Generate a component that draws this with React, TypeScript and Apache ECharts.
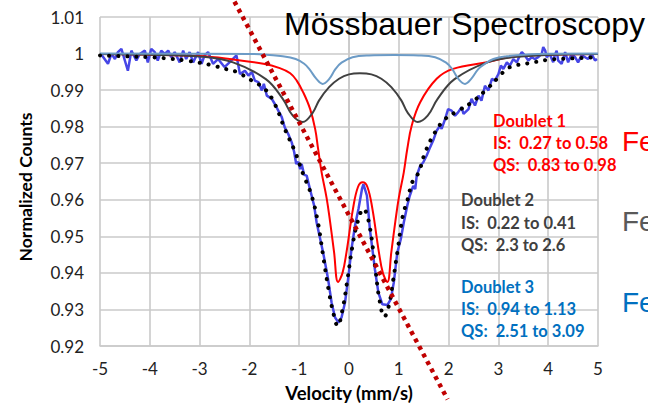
import React, { useEffect, useRef } from "react";
import * as echarts from "echarts";

// Measured spectrum (velocity mm/s, normalized counts)
const measured: [number, number][] = [
  [-4.98, 0.9999], [-4.84, 0.9972], [-4.77, 0.9999], [-4.7, 0.9985], [-4.64, 1.0004], [-4.57, 1.0013],
  [-4.44, 0.9953], [-4.37, 1.0008], [-4.27, 0.9981], [-4.2, 0.9999], [-4.1, 1.0008], [-4.04, 0.9976],
  [-3.97, 1.0013], [-3.9, 1.0004], [-3.84, 0.9981], [-3.77, 1.0008], [-3.7, 0.9999], [-3.63, 1.0008],
  [-3.57, 0.999], [-3.5, 1.0004], [-3.4, 0.9976], [-3.33, 1.0008], [-3.27, 0.9985], [-3.2, 1.0004],
  [-3.13, 0.9976], [-3.03, 1.0004], [-2.96, 0.9972], [-2.9, 0.9995], [-2.83, 1.0004], [-2.73, 0.9972],
  [-2.63, 0.9985], [-2.5, 0.9963], [-2.4, 0.9976], [-2.26, 0.9995], [-2.19, 0.9944], [-2.09, 0.9953],
  [-2.02, 0.994], [-1.95, 0.9949], [-1.89, 0.9926], [-1.82, 0.9922], [-1.75, 0.9899], [-1.71, 0.9917],
  [-1.65, 0.9885], [-1.55, 0.9876], [-1.49, 0.9862], [-1.42, 0.9844], [-1.35, 0.9826], [-1.29, 0.9798],
  [-1.22, 0.978], [-1.15, 0.9757], [-1.1, 0.973], [-1.06, 0.9698], [-1.02, 0.9704], [-0.98, 0.9684],
  [-0.95, 0.9698], [-0.9, 0.9668], [-0.85, 0.9666], [-0.8, 0.9638], [-0.75, 0.9611], [-0.7, 0.9584],
  [-0.65, 0.9538], [-0.52, 0.9456], [-0.42, 0.9383], [-0.35, 0.9319], [-0.28, 0.9278], [-0.21, 0.9264],
  [-0.15, 0.9278], [-0.08, 0.9319], [-0.01, 0.9392], [0.05, 0.9465], [0.12, 0.9529], [0.19, 0.9575],
  [0.26, 0.9629], [0.29, 0.9643], [0.36, 0.9611], [0.42, 0.9519], [0.52, 0.941], [0.59, 0.9346],
  [0.67, 0.9314], [0.77, 0.9312], [0.84, 0.9328], [0.9, 0.9374], [0.97, 0.9456], [1.04, 0.9492],
  [1.1, 0.9538], [1.17, 0.9584], [1.22, 0.9611], [1.29, 0.9638], [1.33, 0.9629], [1.36, 0.9666],
  [1.43, 0.9693], [1.49, 0.9702], [1.56, 0.9721], [1.63, 0.9744], [1.69, 0.9762], [1.76, 0.9789],
  [1.83, 0.9803], [1.86, 0.9794], [1.93, 0.9821], [1.99, 0.9848], [2.06, 0.9844], [2.13, 0.983],
  [2.19, 0.9839], [2.26, 0.9853], [2.3, 0.9835], [2.4, 0.9848], [2.46, 0.9876], [2.53, 0.9858],
  [2.6, 0.9885], [2.66, 0.9871], [2.73, 0.9912], [2.8, 0.9899], [2.87, 0.9931], [2.93, 0.9926],
  [3.0, 0.9944], [3.05, 0.9967], [3.1, 0.9958], [3.17, 0.9976], [3.23, 0.9967], [3.3, 0.9985],
  [3.37, 0.9976], [3.43, 0.9995], [3.47, 1.0004], [3.53, 0.9995], [3.6, 0.9981], [3.67, 0.999],
  [3.73, 0.9985], [3.8, 0.999], [3.87, 0.9999], [3.9, 1.0018], [3.94, 1.0008], [3.97, 0.999],
  [4.03, 0.9999], [4.1, 0.9976], [4.13, 0.9995], [4.17, 1.0008], [4.2, 0.9981], [4.27, 0.9972],
  [4.34, 1.0004], [4.4, 0.9976], [4.47, 0.9999], [4.54, 0.999], [4.6, 0.9976], [4.67, 0.9995],
  [4.74, 0.999], [4.8, 0.9985], [4.87, 0.9999], [4.94, 0.9981], [4.98, 0.9985],
];

// Doublet 1 (red)
const doublet1: [number, number][] = [
  [-5, 0.9999], [-4, 0.9997], [-3, 0.9993], [-2.4, 0.9985], [-1.72, 0.9972], [-1.39, 0.996],
  [-1.18, 0.9946], [-1.05, 0.9926], [-0.92, 0.9894], [-0.78, 0.9848], [-0.68, 0.9794], [-0.62, 0.9739],
  [-0.55, 0.9675], [-0.45, 0.9605], [-0.38, 0.954], [-0.3, 0.9457], [-0.22, 0.9375], [-0.13, 0.94],
  [-0.05, 0.9457], [0.08, 0.9575], [0.18, 0.9635], [0.275, 0.9648], [0.37, 0.9635], [0.47, 0.9575],
  [0.6, 0.9457], [0.68, 0.94], [0.77, 0.9375], [0.85, 0.9457], [0.93, 0.954], [1.0, 0.9605],
  [1.1, 0.9675], [1.17, 0.9739], [1.26, 0.9803], [1.43, 0.9867], [1.76, 0.9931], [2.09, 0.9958],
  [2.77, 0.9976], [3.23, 0.999], [4, 0.9997], [5, 0.9999],
];

// Doublet 2 (grey)
const doublet2: [number, number][] = [
  [-5, 0.9999], [-4, 0.9997], [-3, 0.9992], [-2.33, 0.9976], [-1.67, 0.993], [-1.33, 0.9876],
  [-1.13, 0.983], [-0.93, 0.9813], [-0.73, 0.9838], [-0.6, 0.9872], [-0.4, 0.9908], [-0.2, 0.9931],
  [0.0, 0.9943], [0.22, 0.9946], [0.45, 0.9943], [0.65, 0.9931], [0.85, 0.9908], [1.05, 0.9872],
  [1.18, 0.9838], [1.38, 0.9813], [1.58, 0.983], [1.78, 0.9876], [2.12, 0.993], [2.78, 0.9976],
  [3.45, 0.9992], [4.5, 0.9998], [5, 0.9999],
];

// Doublet 3 (steel blue)
const doublet3: [number, number][] = [
  [-5, 1.0], [-2, 0.9999], [-1.3, 0.9992], [-1.07, 0.9985], [-0.9, 0.9972], [-0.8, 0.9958],
  [-0.65, 0.993], [-0.53, 0.9917], [-0.4, 0.993], [-0.27, 0.9958], [-0.15, 0.9975], [0.07, 0.999],
  [0.4, 0.9995], [0.9, 0.9996], [1.4, 0.9995], [1.73, 0.999], [1.95, 0.9975], [2.07, 0.9958],
  [2.2, 0.993], [2.33, 0.9917], [2.45, 0.993], [2.6, 0.9958], [2.73, 0.9972], [2.9, 0.9985],
  [3.13, 0.9992], [3.8, 0.9999], [5, 1.0],
];

// Total fit (black dotted)
const fitTotal: [number, number][] = [
  [-5, 0.9995], [-4.6, 0.9993], [-4, 0.999], [-3.6, 0.9986], [-3.3, 0.9981], [-3, 0.9975],
  [-2.7, 0.9966], [-2.4, 0.9955], [-2.26, 0.995], [-1.95, 0.9926], [-1.69, 0.9903], [-1.49, 0.9862],
  [-1.29, 0.9794], [-1.08, 0.973], [-0.92, 0.967], [-0.75, 0.9611], [-0.62, 0.9535], [-0.53, 0.9456],
  [-0.4, 0.9346], [-0.3, 0.9282], [-0.23, 0.9255], [-0.13, 0.93], [-0.03, 0.9383], [0.07, 0.9474],
  [0.17, 0.9538], [0.29, 0.9575], [0.4, 0.9538], [0.53, 0.941], [0.61, 0.9328], [0.71, 0.928],
  [0.8, 0.931], [0.88, 0.9374], [0.98, 0.9465], [1.08, 0.9556], [1.18, 0.9602], [1.27, 0.9648],
  [1.4, 0.9675], [1.53, 0.973], [1.73, 0.9785], [1.93, 0.9821], [2.2, 0.9844], [2.47, 0.9867],
  [2.77, 0.9903], [3.0, 0.9935], [3.17, 0.9958], [3.33, 0.9967], [3.67, 0.9975], [4.0, 0.9983],
  [4.5, 0.9987], [5, 0.999],
];

// Dashed trend line drawn across the plot
const trendLine: [number, number][] = [
  [-2.3, 1.0142],
  [1.98, 0.9054],
];

const annotations = [
  { color: "#FF0000", lines: ["Doublet 1", "IS:  0.27 to 0.58", "QS:  0.83 to 0.98"], x: 493, ys: [120.5, 142.5, 164.5] },
  { color: "#404040", lines: ["Doublet 2", "IS:  0.22 to 0.41", "QS:  2.3 to 2.6"], x: 461, ys: [200, 222.5, 245] },
  { color: "#0070C0", lines: ["Doublet 3", "IS:  0.94 to 1.13", "QS:  2.51 to 3.09"], x: 461, ys: [286.5, 309, 331] },
];

const feLabels = [
  { color: "#FF0000", y: 141.5 },
  { color: "#595959", y: 221 },
  { color: "#0070C0", y: 302.5 },
];

const GRID = "#CACACA";
const FONT = "Lato, 'Open Sans', sans-serif";

export default function App() {
  const ref = useRef<HTMLDivElement>(null);
  useEffect(() => {
    const chart = echarts.init(ref.current!, null, { renderer: "svg" });
    const graphic: any[] = [
      {
        type: "text",
        x: 284,
        y: 24,
        silent: true,
        style: {
          text: "Mössbauer Spectroscopy",
          font: "32px 'Liberation Sans', Arial, sans-serif",
          fill: "#000",
          align: "left",
          verticalAlign: "middle",
        },
        z: 100,
      },
      {
        type: "text",
        x: 25,
        y: 187,
        rotation: Math.PI / 2,
        silent: true,
        style: {
          text: "Normalized Counts",
          font: `bold 17.5px ${FONT}`,
          fill: "#000",
          align: "center",
          verticalAlign: "middle",
        },
      },
      {
        type: "text",
        x: 349,
        y: 393,
        silent: true,
        style: {
          text: "Velocity (mm/s)",
          font: `bold 18.5px ${FONT}`,
          fill: "#000",
          align: "center",
          verticalAlign: "middle",
        },
      },
    ];
    annotations.forEach((a) => {
      a.lines.forEach((t, i) => {
        graphic.push({
          type: "text",
          x: a.x,
          y: a.ys[i],
          silent: true,
          z: 100,
          style: {
            text: t,
            font: `bold 16.5px ${FONT}`,
            fill: a.color,
            align: "left",
            verticalAlign: "middle",
          },
        });
      });
    });
    feLabels.forEach((f) => {
      graphic.push({
        type: "text",
        x: 622,
        y: f.y,
        silent: true,
        z: 100,
        style: {
          text: "Fe",
          font: "28px 'Liberation Sans', Arial, sans-serif",
          fill: f.color,
          align: "left",
          verticalAlign: "middle",
        },
      });
    });

    chart.setOption({
      animation: false,
      backgroundColor: "#fff",
      grid: { left: 100, right: 50, top: 17, bottom: 58, containLabel: false },
      xAxis: {
        type: "value",
        min: -5,
        max: 5,
        interval: 1,
        axisLine: { show: true, onZero: false, lineStyle: { color: GRID, width: 1.6 } },
        axisTick: { show: false },
        splitLine: { show: true, lineStyle: { color: GRID, width: 1.6 } },
        axisLabel: { margin: 14, fontFamily: FONT, fontSize: 17, color: "#222" },
      },
      yAxis: {
        type: "value",
        min: 0.92,
        max: 1.01,
        interval: 0.01,
        axisLine: { show: true, lineStyle: { color: GRID, width: 1.6 } },
        axisTick: { show: false },
        splitLine: { show: true, lineStyle: { color: GRID, width: 1.6 } },
        axisLabel: {
          margin: 16,
          fontFamily: FONT,
          fontSize: 17,
          color: "#222",
          formatter: (v: number) => String(Number(v.toFixed(2))),
        },
      },
      graphic,
      series: [
        {
          type: "line",
          data: measured,
          showSymbol: false,
          silent: true,
          lineStyle: { color: "#4646E6", width: 2.5 },
          z: 2,
        },
        {
          type: "line",
          data: doublet1,
          showSymbol: false,
          smooth: 0.4,
          silent: true,
          lineStyle: { color: "#FF0000", width: 2 },
          z: 3,
        },
        {
          type: "line",
          data: doublet2,
          showSymbol: false,
          smooth: 0.4,
          silent: true,
          lineStyle: { color: "#404040", width: 2 },
          z: 3,
        },
        {
          type: "line",
          data: doublet3,
          showSymbol: false,
          smooth: 0.4,
          silent: true,
          lineStyle: { color: "#6C9BC6", width: 2 },
          z: 4,
        },
        {
          type: "line",
          data: fitTotal,
          showSymbol: false,
          smooth: 0.4,
          silent: true,
          lineStyle: { color: "#000", width: 4, type: [0.1, 9], cap: "round" },
          z: 5,
        },
        {
          type: "line",
          data: trendLine,
          showSymbol: false,
          clip: false,
          silent: true,
          lineStyle: { color: "#C00000", width: 4.5, type: [4, 4.5], cap: "butt" },
          z: 6,
        },
      ],
    });
    return () => chart.dispose();
  }, []);
  return (
    <div
      ref={ref}
      style={{ position: "absolute", left: 0, top: 0, width: 648, height: 404, overflow: "hidden" }}
    />
  );
}
